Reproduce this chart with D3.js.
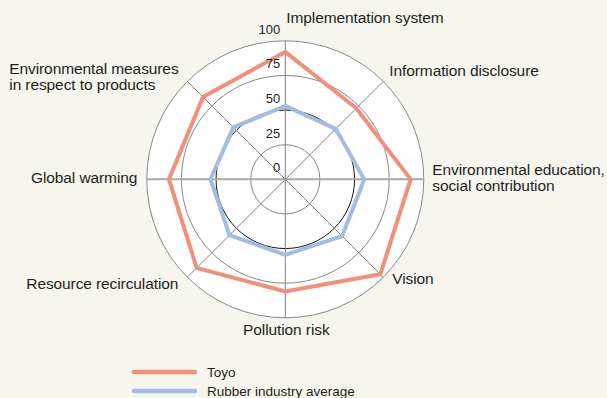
<!DOCTYPE html>
<html>
<head>
<meta charset="utf-8">
<script src="https://cdn.jsdelivr.net/npm/d3@7"></script>
<style>
  html, body { margin: 0; padding: 0; background: #f6f6ee; }
  svg { display: block; }
  text { font-family: "Liberation Sans", Arial, Helvetica, sans-serif; fill: #231f20; }
</style>
</head>
<body>
<div id="chart"></div>
<script>
// axis names, clockwise from the top
var categories = [
  ["Implementation system"],
  ["Information disclosure"],
  ["Environmental education,", "social contribution"],
  ["Vision"],
  ["Pollution risk"],
  ["Resource recirculation"],
  ["Global warming"],
  ["Environmental measures", "in respect to products"]
];
var toyo = [92, 72.5, 90.5, 97, 81, 90.5, 84, 84];
var industryAvg = [53, 51.5, 57, 58, 54.5, 57, 54, 53];
var ticks = [0, 25, 50, 75, 100];

var seriesNames = ["Toyo", "Rubber industry average"];
var seriesColors = ["#f1907a", "#a2bce2"];

// label placement (offset from the chart centre, anchor)
var labelLayout = [
  { x: 1, y: -156, anchor: "start" },
  { x: 104, y: -103, anchor: "start" },
  { x: 147, y: -4.5, anchor: "start" },
  { x: 107, y: 105, anchor: "start" },
  { x: 1, y: 156, anchor: "middle" },
  { x: -107, y: 110, anchor: "end" },
  { x: -148, y: 4, anchor: "end" },
  { x: -276, y: -105.5, anchor: "start" }
];

var width = 607, height = 398;
var cx = 285.3, cy = 179.3, radius = 138.5;

var svg = d3.select("#chart")
  .append("svg")
  .attr("width", width)
  .attr("height", height);

var r = d3.scaleLinear().domain([0, 100]).range([0, radius]);
var angle = d3.scaleLinear().domain([0, categories.length]).range([0, 2 * Math.PI]);

var g = svg.append("g")
  .attr("transform", `translate(${cx}, ${cy})`);

// white disc
g.append("circle")
  .attr("r", r(100))
  .attr("fill", "#fff");

// rings
g.selectAll("circle.ring")
  .data(ticks.filter(d => d > 0))
  .join("circle")
  .attr("class", "ring")
  .attr("r", d => r(d))
  .attr("fill", "none")
  .attr("stroke", d => d == 50 ? "#111" : "#7a7a7a")
  .attr("stroke-width", d => d == 50 ? 1 : 0.9);

// spokes
g.selectAll("line.spoke")
  .data(categories)
  .join("line")
  .attr("class", "spoke")
  .attr("x1", 0)
  .attr("y1", 0)
  .attr("x2", (d, i) => r(100) * Math.sin(angle(i)))
  .attr("y2", (d, i) => -r(100) * Math.cos(angle(i)))
  .attr("stroke", (d, i) => i % 4 == 2 ? "#a8a8a8" : "#808080")
  .attr("stroke-width", (d, i) => i % 4 == 2 ? 2 : 1);

// series
var line = d3.lineRadial()
  .angle((d, i) => angle(i))
  .radius(d => r(d))
  .curve(d3.curveLinearClosed);

g.selectAll("path.series")
  .data([industryAvg, toyo])
  .join("path")
  .attr("class", "series")
  .attr("d", line)
  .attr("fill", "none")
  .attr("stroke", (d, i) => seriesColors[1 - i])
  .attr("stroke-width", 4)
  .attr("stroke-linejoin", "miter");

// tick labels
g.selectAll("text.tick")
  .data(ticks)
  .join("text")
  .attr("class", "tick")
  .attr("x", -5)
  .attr("y", d => -r(d) - 7)
  .attr("text-anchor", "end")
  .attr("font-size", "13px")
  .text(d => d);

// category labels
var labels = g.selectAll("text.cat")
  .data(categories)
  .join("text")
  .attr("class", "cat")
  .attr("font-size", "15.5px")
  .attr("letter-spacing", "-0.1")
  .attr("text-anchor", (d, i) => labelLayout[i].anchor)
  .attr("transform", (d, i) => `translate(${labelLayout[i].x}, ${labelLayout[i].y})`);

labels.selectAll("tspan")
  .data(d => d)
  .join("tspan")
  .attr("x", 0)
  .attr("dy", (d, i) => i == 0 ? 0 : 16)
  .text(d => d);

// legend
var legend = svg.append("g")
  .attr("transform", "translate(132, 372)");

var items = legend.selectAll("g")
  .data(seriesNames)
  .join("g")
  .attr("transform", (d, i) => `translate(0, ${i * 19})`);

items.append("line")
  .attr("x1", 2)
  .attr("x2", 63)
  .attr("stroke", (d, i) => seriesColors[i])
  .attr("stroke-width", 4.5)
  .attr("stroke-linecap", "round");

items.append("text")
  .attr("x", 75)
  .attr("y", 5)
  .attr("font-size", "13.5px")
  .text(d => d);
</script>
</body>
</html>
